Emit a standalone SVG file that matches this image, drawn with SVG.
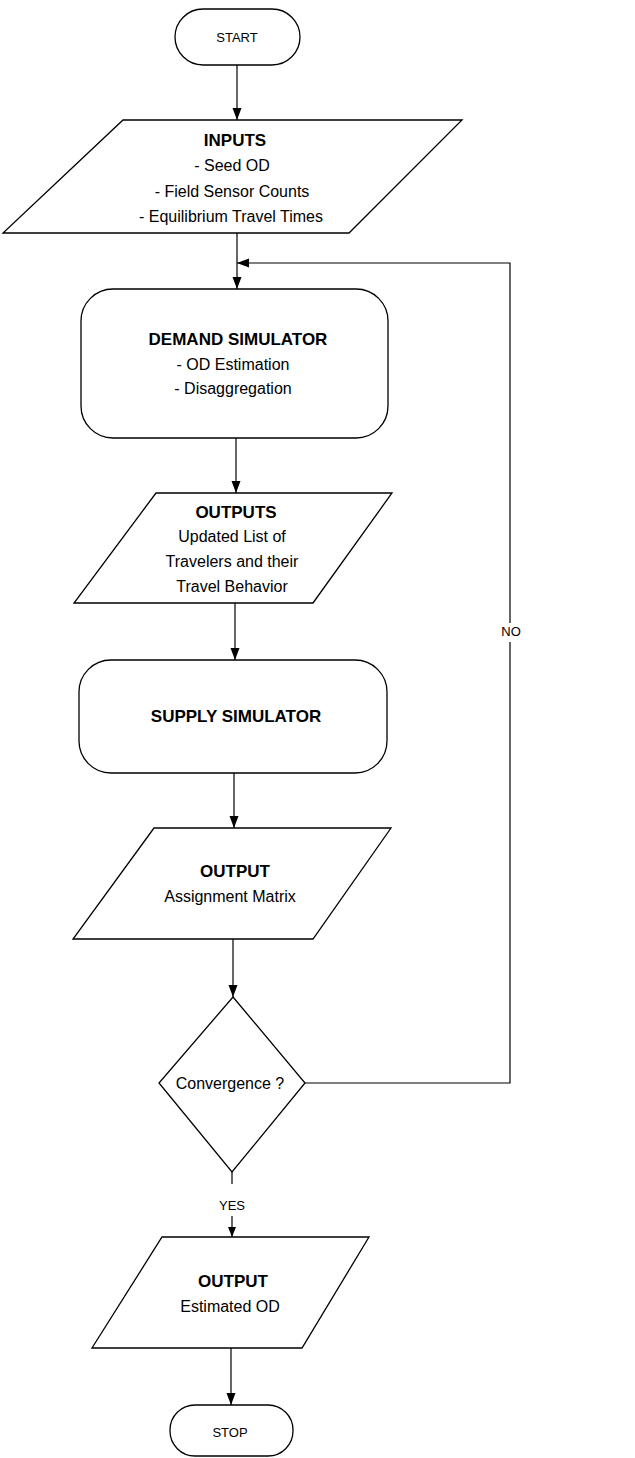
<svg xmlns="http://www.w3.org/2000/svg" width="635" height="1458" viewBox="0 0 635 1458">
<style>
.s{fill:#fff;stroke:#000;stroke-width:1.3}
.c{fill:none;stroke:#000;stroke-width:1.2}
.t{font-family:"Liberation Sans",Arial,sans-serif;font-size:16px;fill:#000;text-anchor:middle}
.b{font-weight:bold;font-size:17px}
.sm{font-size:13px}
</style>
<defs>
<marker id="ah" viewBox="0 0 10 10" refX="10" refY="5" markerWidth="10" markerHeight="10" markerUnits="userSpaceOnUse" orient="auto">
<path d="M0,1 L10,5 L0,9 Z" fill="#000"/>
</marker>
<marker id="ahL" viewBox="0 0 12 10" refX="12" refY="5" markerWidth="12" markerHeight="10" markerUnits="userSpaceOnUse" orient="auto">
<path d="M0,0.5 L12,5 L0,9.5 Z" fill="#000"/>
</marker>
</defs>
<rect width="635" height="1458" fill="#fff"/>
<g id="connectors">
<line class="c" x1="237" y1="65" x2="237" y2="120" marker-end="url(#ahL)"/>
<line class="c" x1="237" y1="233" x2="237" y2="289" marker-end="url(#ahL)"/>
<line class="c" x1="236" y1="438" x2="236" y2="493" marker-end="url(#ahL)"/>
<line class="c" x1="235" y1="603" x2="235" y2="660" marker-end="url(#ahL)"/>
<line class="c" x1="234" y1="773" x2="234" y2="828" marker-end="url(#ahL)"/>
<line class="c" x1="233" y1="939" x2="233" y2="997" marker-end="url(#ahL)"/>
<line class="c" x1="232" y1="1172" x2="232" y2="1184"/>
<line class="c" x1="232" y1="1216" x2="232" y2="1237" marker-end="url(#ah)"/>
<line class="c" x1="231" y1="1348" x2="231" y2="1405" marker-end="url(#ahL)"/>
<polyline class="c" points="305,1083 510,1083 510,642"/>
<polyline class="c" points="510,623 510,263 237,263" marker-end="url(#ahL)"/>
<text class="t sm" x="511" y="636">NO</text>
<text class="t sm" x="232" y="1210">YES</text>
</g>
<g id="start">
<rect class="s" x="175" y="9" width="125" height="56" rx="28" ry="28"/>
<text class="t sm" x="237" y="42">START</text>
</g>
<g id="inputs">
<polygon class="s" points="123,120 462,120 349,233 3,233"/>
<text class="t b" x="235" y="146">INPUTS</text>
<text class="t" x="232" y="171">- Seed OD</text>
<text class="t" x="232" y="197">- Field Sensor Counts</text>
<text class="t" x="231" y="222">- Equilibrium Travel Times</text>
</g>
<g id="demand">
<rect class="s" x="81" y="289" width="307" height="149" rx="32" ry="32"/>
<text class="t b" x="238" y="345">DEMAND SIMULATOR</text>
<text class="t" x="233" y="370">- OD Estimation</text>
<text class="t" x="233" y="394">- Disaggregation</text>
</g>
<g id="outputs">
<polygon class="s" points="156,493 392,493 313,603 74,603"/>
<text class="t b" x="236" y="518">OUTPUTS</text>
<text class="t" x="232" y="542">Updated List of</text>
<text class="t" x="232" y="567">Travelers and their</text>
<text class="t" x="232" y="592">Travel Behavior</text>
</g>
<g id="supply">
<rect class="s" x="79" y="660" width="308" height="113" rx="32" ry="32"/>
<text class="t b" x="236" y="722">SUPPLY SIMULATOR</text>
</g>
<g id="output-assign">
<polygon class="s" points="154,828 391,828 313,939 73,939"/>
<text class="t b" x="235" y="877">OUTPUT</text>
<text class="t" x="230" y="902">Assignment Matrix</text>
</g>
<g id="convergence">
<polygon class="s" points="233,997 305,1083 232,1172 159,1083"/>
<text class="t" x="230" y="1089">Convergence ?</text>
</g>
<g id="output-od">
<polygon class="s" points="162,1237 369,1237 302,1348 92,1348"/>
<text class="t b" x="233" y="1287">OUTPUT</text>
<text class="t" x="230" y="1312">Estimated OD</text>
</g>
<g id="stop">
<rect class="s" x="170" y="1405" width="123" height="51" rx="25" ry="25"/>
<text class="t sm" x="230" y="1437">STOP</text>
</g>
</svg>
